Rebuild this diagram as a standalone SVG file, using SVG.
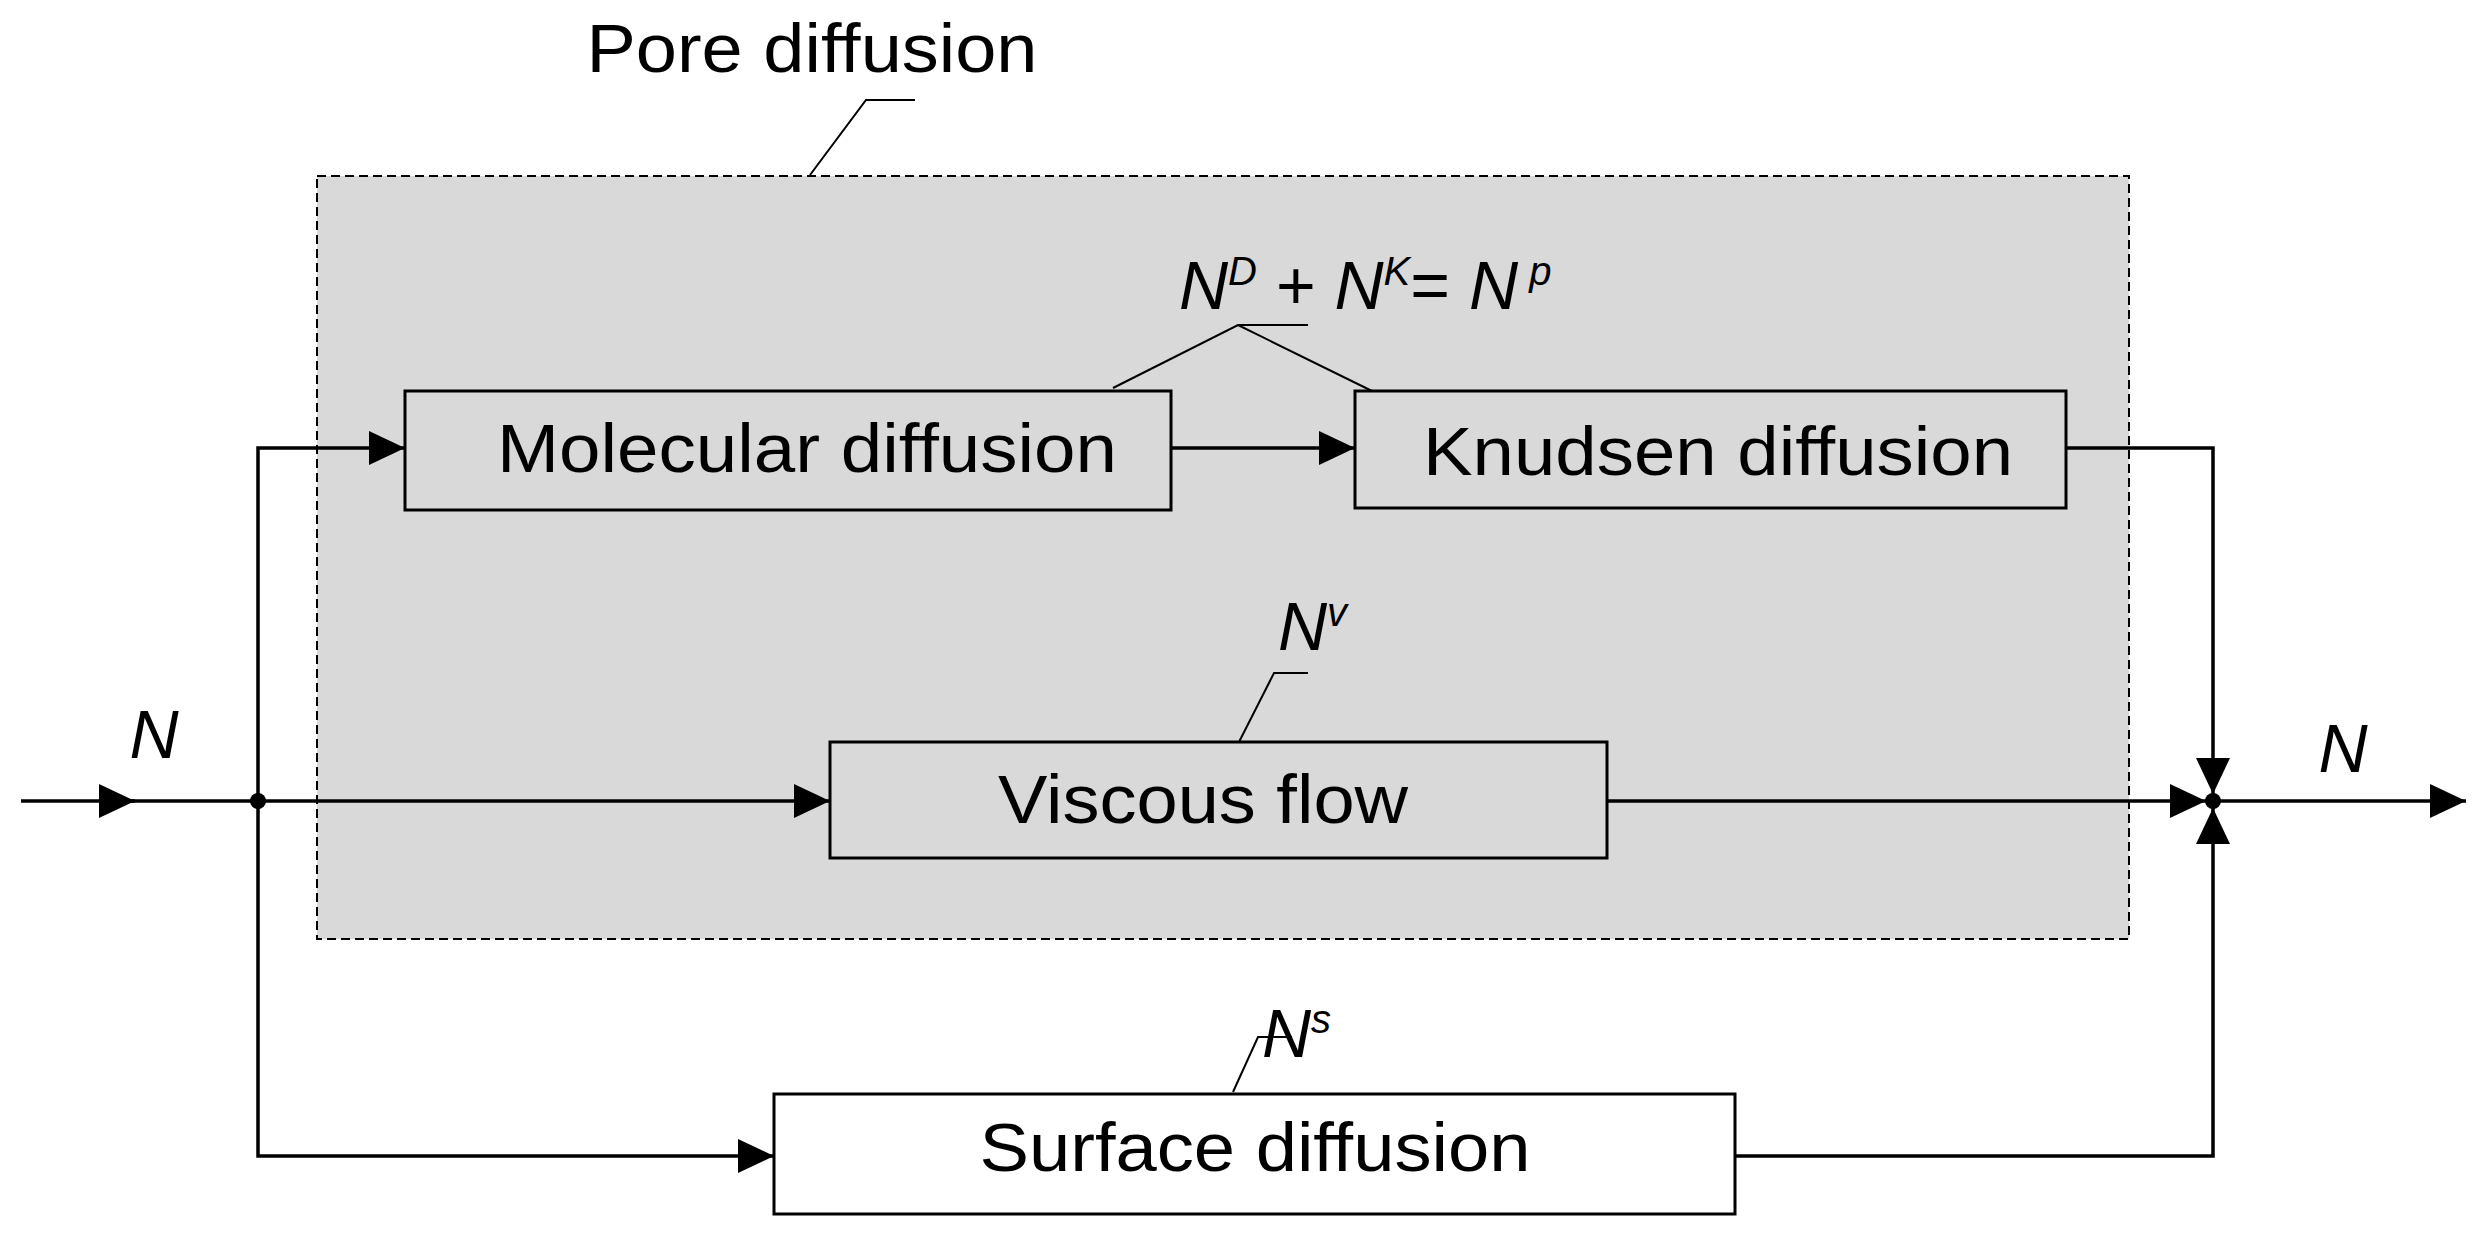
<svg xmlns="http://www.w3.org/2000/svg" width="2482" height="1234" viewBox="0 0 2482 1234">
<style>
text{font-family:"Liberation Sans",Arial,sans-serif;fill:#000}
.lbl{font-size:68px}
.box{stroke:#000;stroke-width:3}
.g{fill:#d9d9d9}
.w{fill:#fff}
.c{fill:none;stroke:#000;stroke-width:3.5}
.ld{fill:none;stroke:#000;stroke-width:2}
.it{font-style:italic;font-size:68px}
.sup{font-size:40px;font-style:italic}
</style>
<defs>
<marker id="ah" markerUnits="userSpaceOnUse" markerWidth="40" markerHeight="40" refX="36" refY="17" orient="auto">
<path d="M0,0 L36,17 L0,34 Z" fill="#000"/>
</marker>
</defs>
<g id="pore">
<rect x="317" y="176" width="1812" height="763" fill="#d9d9d9" stroke="#000" stroke-width="2" stroke-dasharray="9,5"/>
<text class="lbl" x="812" y="72" text-anchor="middle" textLength="451" lengthAdjust="spacingAndGlyphs">Pore diffusion</text>
<polyline class="ld" points="810,175 866,100 915,100"/>
</g>
<g id="molecular">
<rect class="box g" x="405" y="391" width="766" height="119"/>
<text class="lbl" x="807" y="472" text-anchor="middle" textLength="620" lengthAdjust="spacingAndGlyphs">Molecular diffusion</text>
</g>
<g id="knudsen">
<rect class="box g" x="1355" y="391" width="711" height="117"/>
<text class="lbl" x="1718" y="475" text-anchor="middle" textLength="590" lengthAdjust="spacingAndGlyphs">Knudsen diffusion</text>
</g>
<g id="viscous">
<rect class="box g" x="830" y="742" width="777" height="116"/>
<text class="lbl" x="1203" y="823" text-anchor="middle" textLength="410" lengthAdjust="spacingAndGlyphs">Viscous flow</text>
</g>
<g id="surface">
<rect class="box w" x="774" y="1094" width="961" height="120"/>
<text class="lbl" x="1255" y="1171" text-anchor="middle" textLength="551" lengthAdjust="spacingAndGlyphs">Surface diffusion</text>
</g>
<g id="labels">
<text class="it" x="154" y="758" text-anchor="middle">N</text>
<text class="it" x="2343" y="772" text-anchor="middle">N</text>
<text x="1179" y="309"><tspan class="it">N</tspan><tspan class="sup" dy="-24">D</tspan><tspan class="lbl" dy="24"> + </tspan><tspan class="it">N</tspan><tspan class="sup" dy="-24">K</tspan><tspan class="lbl" dy="24">= </tspan><tspan class="it">N</tspan><tspan class="sup" dy="-24"> p</tspan></text>
<polyline class="ld" points="1113,388 1238,325 1308,325"/>
<line class="ld" x1="1238" y1="325" x2="1372" y2="391"/>
<text x="1278" y="650"><tspan class="it">N</tspan><tspan class="sup" dy="-24">v</tspan></text>
<polyline class="ld" points="1239,742 1274,673 1308,673"/>
<text x="1262" y="1057"><tspan class="it">N</tspan><tspan class="sup" dy="-24">s</tspan></text>
<polyline class="ld" points="1233,1092 1258,1037 1292,1037"/>
</g>
<g id="connectors">
<line class="c" x1="21" y1="801" x2="135" y2="801" marker-end="url(#ah)"/>
<line class="c" x1="130" y1="801" x2="830" y2="801" marker-end="url(#ah)"/>
<polyline class="c" points="258,801 258,448 405,448" marker-end="url(#ah)"/>
<polyline class="c" points="258,801 258,1156 774,1156" marker-end="url(#ah)"/>
<line class="c" x1="1171" y1="448" x2="1355" y2="448" marker-end="url(#ah)"/>
<line class="c" x1="1607" y1="801" x2="2206" y2="801" marker-end="url(#ah)"/>
<polyline class="c" points="2066,448 2213,448 2213,794" marker-end="url(#ah)"/>
<polyline class="c" points="1735,1156 2213,1156 2213,808" marker-end="url(#ah)"/>
<line class="c" x1="2213" y1="801" x2="2466" y2="801" marker-end="url(#ah)"/>
<circle cx="258" cy="801" r="8" fill="#000"/>
<circle cx="2213" cy="801" r="8" fill="#000"/>
</g>
</svg>
